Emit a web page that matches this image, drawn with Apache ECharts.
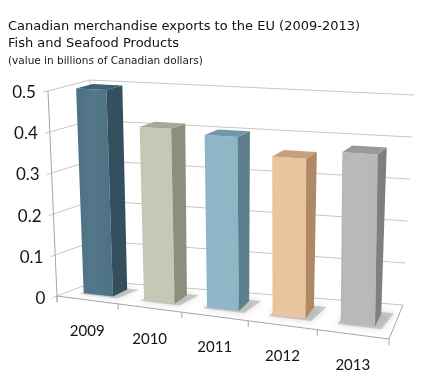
<!DOCTYPE html>
<html><head><meta charset="utf-8">
<script src="https://cdn.jsdelivr.net/npm/echarts@6/dist/echarts.min.js"></script>
<style>html,body{margin:0;padding:0;background:#fff}#c{width:430px;height:379px}</style>
</head><body><div id="c"></div>
<script>
// ---- data ----
const years = ['2009', '2010', '2011', '2012', '2013'];
const exportValues = [0.50, 0.415, 0.405, 0.365, 0.385];
const yTicks = [0, 0.1, 0.2, 0.3, 0.4, 0.5];
const yTickLabels = ['0', '0.1', '0.2', '0.3', '0.4', '0.5'];
const titleLines = ['Canadian merchandise exports to the EU (2009-2013)', 'Fish and Seafood Products'];
const subtitle = '(value in billions of Canadian dollars)';
const frontColors = ['#4c7184', '#c4c7b4', '#8db5c6', '#e9c49b', '#b7b7b7'];
const sideColors = ['#34505e', '#8d8e7c', '#5e7e8c', '#ae8964', '#7f7f7f'];
const topColors = ['#3f6070', '#a7a896', '#7299ab', '#c7a17b', '#999999'];

// ---- 3D view (screen corners of the plot box) ----
const VIEW = {
  FLB: [57, 296], FRB: [389, 339], BRB: [403, 305], BLB: [96, 281],
  FLT: [48, 91], FRT: [390, 108], BRT: [414, 95], BLT: [90, 80],
  bend: 0.1, barD0: 0.3, barD1: 0.7, barHalf: 0.245
};
function lerp(a, b, t) { return [a[0] + (b[0] - a[0]) * t, a[1] + (b[1] - a[1]) * t]; }
function proj(u, v, d) {
  const uu = u * (1 - VIEW.bend + VIEW.bend * u);
  const fb = lerp(VIEW.FLB, VIEW.FRB, uu), bb = lerp(VIEW.BLB, VIEW.BRB, uu);
  const ft = lerp(VIEW.FLT, VIEW.FRT, uu), bt = lerp(VIEW.BLT, VIEW.BRT, uu);
  return lerp(lerp(fb, bb, d), lerp(ft, bt, d), v);
}
function norm(cs) {
  return {
    u: x => (x - cs.x) / cs.width,
    v: y => (cs.y + cs.height - y) / cs.height
  };
}
const GRID_C = '#c6c6c6', EDGE_C = '#a6a6a6';
function line(p, q, color) {
  return { type: 'line', silent: true, shape: { x1: p[0], y1: p[1], x2: q[0], y2: q[1] },
    style: { stroke: color, lineWidth: 1 } };
}
function text(str, x, y, font, align) {
  return { type: 'text', silent: true,
    style: { text: str, x: x, y: y, font: font, fill: '#141414',
      align: align, verticalAlign: 'middle', textAlign: align, textVerticalAlign: 'middle' } };
}

function renderFrame(params, api) {
  const cs = params.coordSys, N = norm(cs);
  const band = api.size([1, 0])[0];
  const ch = [];
  yTicks.forEach((t, k) => {
    const v = N.v(api.coord([0, t])[1]);
    ch.push(line(proj(0, v, 1), proj(1, v, 1), GRID_C));
    ch.push(line(proj(0, v, -0.12), proj(0, v, 1), GRID_C));
    const p = proj(0, v, -0.12);
    ch.push(text(yTickLabels[k], p[0] - 7, p[1] + 0.5, '17px Lato', 'right'));
  });
  ch.push(line(proj(0, 0, 1), proj(0, 1, 1), GRID_C));
  ch.push(line(proj(0, -0.03, 0), proj(0, 1, 0), EDGE_C));
  ch.push(line(proj(0, 0, 0), proj(1, 0, 0), EDGE_C));
  ch.push(line(proj(1, 0, 0), proj(1, 0, 1), EDGE_C));
  for (let k = 0; k <= years.length; k++) {
    const idx = Math.min(k, years.length - 1);
    const x = api.coord([idx, 0])[0] + (k < years.length ? -band / 2 : band / 2);
    const p = proj(N.u(x), 0, 0);
    ch.push(line(p, [p[0], p[1] + 6], EDGE_C));
  }
  years.forEach((y, i) => {
    const p = proj(N.u(api.coord([i, 0])[0]), 0, 0);
    ch.push(text(y, p[0], p[1] + 31, '15px Lato', 'center'));
  });
  return { type: 'group', children: ch };
}

function renderBar(params, api) {
  const cs = params.coordSys, N = norm(cs);
  const i = api.value(0), val = api.value(1);
  const band = api.size([1, 0])[0];
  const uc = N.u(api.coord([i, 0])[0]);
  const hw = band * VIEW.barHalf / cs.width;
  const u0 = uc - hw, u1 = uc + hw;
  const v = N.v(api.coord([i, val])[1]);
  const d0 = VIEW.barD0, d1 = VIEW.barD1;
  const P = proj;
  const poly = (pts, fill, extra) => Object.assign({ type: 'polygon', silent: true,
    shape: { points: pts }, style: Object.assign({ fill: fill }, extra || {}) });
  const fc = frontColors[i];
  return { type: 'group', children: [
    poly([P(u0 - 0.008, 0, d0 - 0.05), P(u1 + 0.02, 0, d0 - 0.05), P(u1 + 0.035, 0, d1 + 0.04), P(u0 + 0.005, 0, d1 + 0.04)],
      'rgba(150,150,150,0.45)', { shadowBlur: 6, shadowColor: 'rgba(0,0,0,0.35)' }),
    poly([P(u0, 0, d0), P(u1, 0, d0), P(u1, v, d0), P(u0, v, d0)], {
      type: 'linear', x: 0, y: 0, x2: 1, y2: 0,
      colorStops: [{ offset: 0, color: fc }, { offset: 0.5, color: echarts.color.lift(fc, 0.05) }, { offset: 1, color: fc }]
    }),
    poly([P(u1, 0, d0), P(u1, 0, d1), P(u1, v, d1), P(u1, v, d0)], sideColors[i]),
    poly([P(u0, v, d0), P(u1, v, d0), P(u1, v, d1), P(u0, v, d1)], topColors[i])
  ] };
}

const chart = echarts.init(document.getElementById('c'), null, { renderer: 'canvas' });
const titleFont = 'DejaVu Sans';
chart.setOption({
  animation: false,
  graphic: [
    { type: 'text', x: 8, y: 27, silent: true, style: { text: titleLines[0], font: '13px "' + titleFont + '"', fill: '#111', verticalAlign: 'middle', textVerticalAlign: 'middle' } },
    { type: 'text', x: 8, y: 44, silent: true, style: { text: titleLines[1], font: '13px "' + titleFont + '"', fill: '#111', verticalAlign: 'middle', textVerticalAlign: 'middle' } },
    { type: 'text', x: 8, y: 61, silent: true, style: { text: subtitle, font: '10.5px "' + titleFont + '"', fill: '#1a1a1a', verticalAlign: 'middle', textVerticalAlign: 'middle' } }
  ],
  grid: { left: 57, top: 91, width: 332, height: 205 },
  xAxis: { type: 'category', data: years, show: false },
  yAxis: { type: 'value', min: 0, max: 0.5, interval: 0.1, show: false },
  series: [
    { type: 'custom', renderItem: renderFrame, data: [[0, 0]], z: 1, silent: true },
    { type: 'custom', renderItem: renderBar, z: 2, silent: true,
      data: exportValues.map((v, i) => [i, v]) }
  ]
});
</script></body></html>
